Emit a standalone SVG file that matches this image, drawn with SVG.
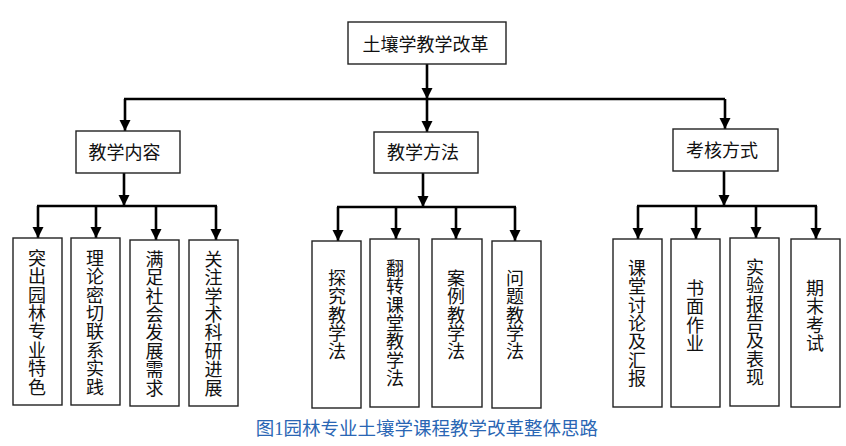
<svg xmlns="http://www.w3.org/2000/svg" width="846" height="446" viewBox="0 0 846 446">
<style>
.box{fill:#fff;stroke:#222;stroke-width:1.4}
.t{font-family:"Noto Sans CJK SC","Noto Sans",sans-serif;font-size:18px;fill:#111;text-anchor:middle;dominant-baseline:central}
.v{font-family:"Noto Sans CJK SC","Noto Sans",sans-serif;font-size:18px;fill:#111;writing-mode:vertical-rl;text-anchor:start;letter-spacing:0.4px}
.ln{fill:none;stroke:#000;stroke-width:2.6}
.ar{fill:none;stroke:#000;stroke-width:2.6;marker-end:url(#ah)}
.cap{font-family:"Liberation Serif","Noto Sans CJK SC",serif;font-size:18.5px;fill:#2a66b4;text-anchor:middle}
</style>
<defs>
<marker id="ah" markerUnits="userSpaceOnUse" markerWidth="12" markerHeight="12" viewBox="0 0 12 12" refX="11" refY="6" orient="auto">
<path d="M0,0.5 L11,6 L0,11.5 Z" fill="#000"/>
</marker>
</defs>
<rect width="846" height="446" fill="#fff"/>
<g id="connectors">
<path class="ar" d="M427,64 V99"/>
<path class="ln" d="M124,99 H725"/>
<path class="ar" d="M125,99 V131"/>
<path class="ar" d="M427,99 V132"/>
<path class="ar" d="M725,99 V129"/>
<path class="ar" d="M124,173 V206"/>
<path class="ln" d="M37,206 H217"/>
<path class="ar" d="M38,206 V238"/>
<path class="ar" d="M96,206 V238"/>
<path class="ar" d="M156,206 V240"/>
<path class="ar" d="M216,206 V240"/>
<path class="ar" d="M423,173 V207"/>
<path class="ln" d="M337,207 H516"/>
<path class="ar" d="M338,207 V241"/>
<path class="ar" d="M396,207 V239"/>
<path class="ar" d="M456,207 V239"/>
<path class="ar" d="M515,207 V241"/>
<path class="ar" d="M724,171 V206"/>
<path class="ln" d="M637,206 H817"/>
<path class="ar" d="M638,206 V239"/>
<path class="ar" d="M696,206 V239"/>
<path class="ar" d="M756,206 V238"/>
<path class="ar" d="M816,206 V239"/>
</g>
<g id="root"><rect class="box" x="348" y="22" width="158" height="42"/><text class="t" x="425.5" y="43">土壤学教学改革</text></g>
<g id="content"><rect class="box" x="76" y="131" width="104" height="42"/><text class="t" x="124.5" y="150.5">教学内容</text></g>
<g id="method"><rect class="box" x="374" y="132" width="104" height="41"/><text class="t" x="423" y="151">教学方法</text></g>
<g id="assess"><rect class="box" x="673" y="129" width="105" height="42"/><text class="t" x="722" y="149">考核方式</text></g>
<g id="c1"><rect class="box" x="13" y="238" width="49" height="167"/><text class="v" x="37" y="249">突出园林专业特色</text></g>
<g id="c2"><rect class="box" x="71" y="238" width="49" height="167"/><text class="v" x="95" y="249">理论密切联系实践</text></g>
<g id="c3"><rect class="box" x="130" y="240" width="49" height="166"/><text class="v" x="154.5" y="250">满足社会发展需求</text></g>
<g id="c4"><rect class="box" x="189" y="240" width="49" height="166"/><text class="v" x="213.5" y="250">关注学术科研进展</text></g>
<g id="m1"><rect class="box" x="312" y="241" width="49" height="167"/><text class="v" x="337" y="269">探究教学法</text></g>
<g id="m2"><rect class="box" x="370" y="239" width="49" height="168"/><text class="v" x="395" y="259">翻转课堂教学法</text></g>
<g id="m3"><rect class="box" x="432" y="239" width="50" height="168"/><text class="v" x="456" y="269">案例教学法</text></g>
<g id="m4"><rect class="box" x="492" y="241" width="49" height="167"/><text class="v" x="515" y="269">问题教学法</text></g>
<g id="a1"><rect class="box" x="613" y="239" width="49" height="168"/><text class="v" x="637" y="259">课堂讨论及汇报</text></g>
<g id="a2"><rect class="box" x="671" y="239" width="49" height="168"/><text class="v" x="695" y="279">书面作业</text></g>
<g id="a3"><rect class="box" x="730" y="238" width="49" height="168"/><text class="v" x="755" y="258">实验报告及表现</text></g>
<g id="a4"><rect class="box" x="791" y="239" width="49" height="168"/><text class="v" x="815" y="279">期末考试</text></g>
<text class="cap" x="427" y="435">图1园林专业土壤学课程教学改革整体思路</text>
</svg>
